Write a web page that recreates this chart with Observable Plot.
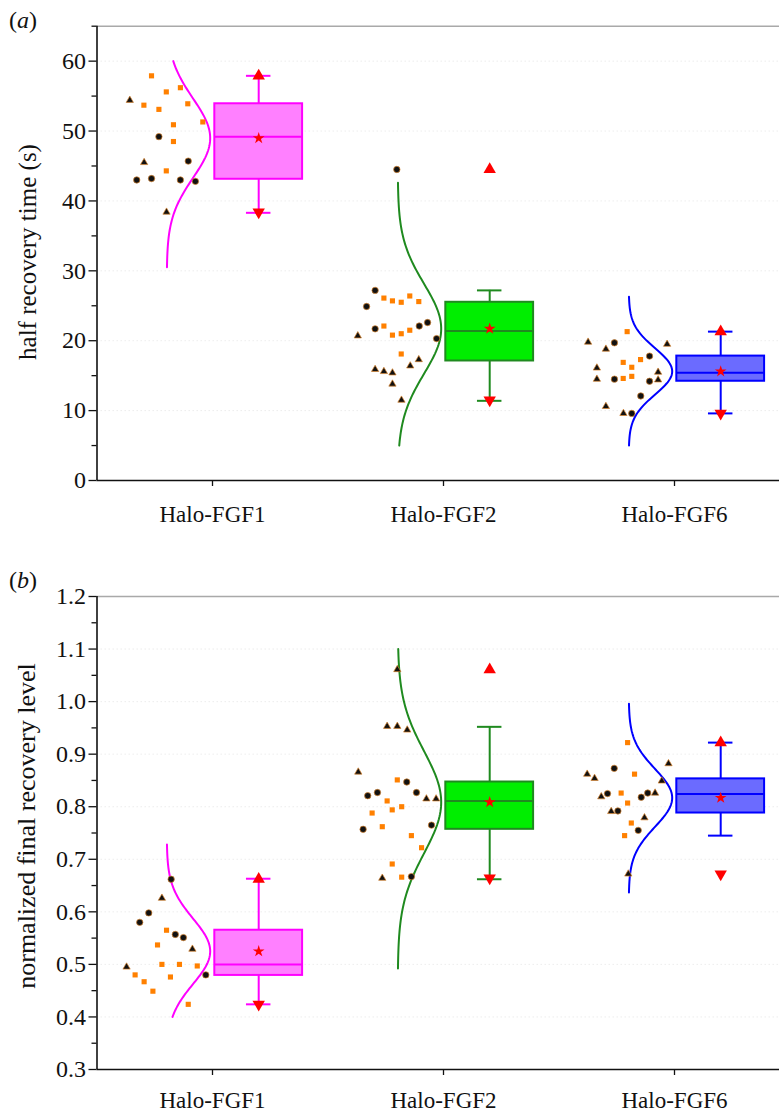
<!DOCTYPE html>
<html>
<head>
<meta charset="utf-8">
<script src="https://cdn.jsdelivr.net/npm/d3@7"></script>
<script src="https://cdn.jsdelivr.net/npm/@observablehq/plot@0.6"></script>
<style>
  html, body { margin: 0; padding: 0; background: #fff; }
  #wrap { position: relative; width: 779px; height: 1112px; overflow: hidden; font-family: "Liberation Serif", "Times New Roman", serif; color: #111; }
  .panel { position: absolute; left: 0; z-index: 1; }
  .plabel { position: absolute; left: 9px; font-size: 24px; line-height: 1; z-index: 2; }
  .ytitle { position: absolute; transform: translate(-50%, -50%) rotate(-90deg); white-space: nowrap; font-size: 25px; line-height: 1; z-index: 2; }
</style>
</head>
<body>
<div id="wrap">
  <div class="panel" id="pa" style="top:0px"></div>
  <div class="panel" id="pb" style="top:560px"></div>
  <div class="plabel" style="top:8px">(<i>a</i>)</div>
  <div class="ytitle" style="left:27px; top:252px">half recovery time (s)</div>
  <div class="plabel" style="top:568px">(<i>b</i>)</div>
  <div class="ytitle" style="left:27px; top:826px; font-size:26px">normalized final recovery level</div>
</div>
<script>
// ---------------- data ----------------
const categories = ["Halo-FGF1", "Halo-FGF2", "Halo-FGF6"];

// (a) half recovery time (s): values, marker kind (s = square, t = triangle, c = circle), horizontal jitter
const timeFGF1 = [57.9, 55.6, 56.2, 53.7, 53.1, 53.9, 51.3, 50.9, 48.5, 44.3, 54.4, 45.5, 38.4, 49.2, 45.7, 43.0, 43.2, 43.0, 42.8];
const timeFGF1Kind = "sssssssssstttcccccc";
const timeFGF1Jitter = [-0.264, -0.200, -0.139, -0.297, -0.232, -0.107, -0.042, -0.169, -0.169, -0.200, -0.358, -0.296, -0.199, -0.232, -0.105, -0.328, -0.264, -0.139, -0.074];

const timeFGF2 = [44.5, 27.2, 24.9, 21.7, 22.1, 22.6, 20.3, 26.1, 25.7, 25.5, 26.4, 25.6, 22.1, 20.8, 21.0, 21.5, 18.1, 20.7, 17.3, 16.4, 15.9, 15.6, 15.4, 13.8, 11.5];
const timeFGF2Kind = "cccccccsssssssssstttttttt";
const timeFGF2Jitter = [-0.202, -0.296, -0.333, -0.296, -0.105, -0.069, -0.030, -0.258, -0.221, -0.183, -0.146, -0.107, -0.258, -0.221, -0.183, -0.146, -0.183, -0.371, -0.107, -0.144, -0.296, -0.258, -0.221, -0.221, -0.182];

const timeFGF6 = [21.3, 16.9, 17.3, 16.2, 14.6, 14.9, 19.7, 17.8, 14.5, 14.2, 12.1, 9.6, 19.8, 18.8, 19.5, 16.1, 14.5, 15.5, 14.4, 10.6, 9.6];
const timeFGF6Kind = "ssssssccccccttttttttt";
const timeFGF6Jitter = [-0.205, -0.222, -0.147, -0.185, -0.222, -0.185, -0.260, -0.108, -0.260, -0.108, -0.146, -0.185, -0.374, -0.297, -0.032, -0.336, -0.336, -0.071, -0.071, -0.297, -0.221];

// (a) box statistics and normal-curve extent, per category
const timeQ1 = [43.1, 17.1, 14.2];
const timeMedian = [49.2, 21.4, 15.4];
const timeQ3 = [53.9, 25.5, 17.8];
const timeWhiskerLow = [38.3, 11.4, 9.6];
const timeWhiskerHigh = [57.9, 27.2, 21.3];
const timeCurveFrom = [30.5, 5.0, 5.0];
const timeCurveTo = [60.0, 42.6, 26.3];
const timeTicks = [0, 10, 20, 30, 40, 50, 60];
const timeMinorTicks = [5, 15, 25, 35, 45, 55, 65];

// (b) normalized final recovery level
const levelFGF1 = [0.662, 0.598, 0.580, 0.557, 0.551, 0.480, 0.626, 0.529, 0.495, 0.565, 0.537, 0.500, 0.500, 0.497, 0.480, 0.476, 0.467, 0.449, 0.424];
const levelFGF1Kind = "cccccctttssssssssss";
const levelFGF1Jitter = [-0.179, -0.276, -0.315, -0.161, -0.126, -0.029, -0.219, -0.087, -0.372, -0.199, -0.238, -0.219, -0.143, -0.066, -0.335, -0.182, -0.296, -0.258, -0.105];

const levelFGF2 = [1.061, 0.953, 0.953, 0.946, 0.866, 0.815, 0.815, 0.664, 0.847, 0.821, 0.827, 0.827, 0.757, 0.765, 0.667, 0.851, 0.811, 0.800, 0.794, 0.788, 0.762, 0.745, 0.722, 0.691, 0.666];
const levelFGF2Kind = "ttttttttcccccccssssssssss";
const levelFGF2Jitter = [-0.200, -0.244, -0.200, -0.157, -0.369, -0.074, -0.032, -0.265, -0.159, -0.328, -0.286, -0.117, -0.348, -0.052, -0.139, -0.200, -0.244, -0.181, -0.222, -0.309, -0.265, -0.139, -0.095, -0.222, -0.181];

const levelFGF6 = [0.882, 0.862, 0.854, 0.849, 0.826, 0.819, 0.791, 0.779, 0.672, 0.873, 0.825, 0.826, 0.818, 0.792, 0.755, 0.922, 0.862, 0.826, 0.807, 0.769, 0.745];
const levelFGF6Kind = "tttttttttccccccssssss";
const levelFGF6Jitter = [-0.026, -0.378, -0.346, -0.055, -0.084, -0.317, -0.274, -0.130, -0.200, -0.261, -0.290, -0.116, -0.144, -0.245, -0.157, -0.203, -0.173, -0.231, -0.203, -0.187, -0.216];

const levelQ1 = [0.479, 0.757, 0.788];
const levelMedian = [0.500, 0.811, 0.824];
const levelQ3 = [0.565, 0.847, 0.853];
const levelWhiskerLow = [0.424, 0.662, 0.745];
const levelWhiskerHigh = [0.663, 0.952, 0.922];
const levelCurveFrom = [0.400, 0.492, 0.637];
const levelCurveTo = [0.728, 1.100, 0.996];
const levelTicks = [0.3, 0.4, 0.5, 0.6, 0.7, 0.8, 0.9, 1.0, 1.1, 1.2];
const levelMinorTicks = [0.35, 0.45, 0.55, 0.65, 0.75, 0.85, 0.95, 1.05, 1.15];

// ---------------- style ----------------
const lineColor = ["#ff00ff", "#1f8a1f", "#0000ff"];
const boxFill = ["#ff80ff", "#00ee00", "#6b6bff"];
const BOX_OFF = 0.2, BOX_HALF = 0.19, CAP_HALF = 0.053;
const CURVE_BASE = -0.198, CURVE_AMP = 0.188;
const FONT = "Liberation Serif";

function panel(o) {
  const marks = [];
  const [y0, y1] = o.domain;
  // faint dotted grid
  marks.push(Plot.ruleY(o.ticks.filter(t => t > y0 && t < y1), {stroke: "#d6d6d6", strokeOpacity: 0.45, strokeDasharray: "1.5,2.5"}));
  // top frame line
  marks.push(Plot.ruleY([y1], {stroke: "#a9a9a9", strokeWidth: 1.5}));

  categories.forEach((c, g) => {
    const pos = g + 1;
    const vals = o.values[g];
    const mean = d3.mean(vals), sd = d3.deviation(vals);
    // normal distribution curve
    const n = 120, lo = o.curveFrom[g], hi = o.curveTo[g];
    const curve = d3.range(n + 1).map(k => {
      const v = lo + (hi - lo) * k / n;
      const z = (v - mean) / sd;
      return {x: pos + CURVE_BASE + CURVE_AMP * Math.exp(-0.5 * z * z), y: v};
    });
    marks.push(Plot.line(curve, {x: "x", y: "y", stroke: lineColor[g], strokeWidth: 2, curve: "linear"}));

    // jittered raw points
    const pts = vals.map((v, i) => ({x: pos + o.jitter[g][i], y: v, k: o.kind[g][i]}));
    marks.push(Plot.dot(pts.filter(d => d.k === "s"), {x: "x", y: "y", symbol: "square", r: 2.9, fill: "#ff8000", stroke: "none"}));
    marks.push(Plot.dot(pts.filter(d => d.k === "c"), {x: "x", y: "y", symbol: "circle", r: 3.2, fill: "#111", stroke: "#d9832b", strokeWidth: 0.7}));
    marks.push(Plot.dot(pts.filter(d => d.k === "t"), {x: "x", y: "y", symbol: "triangle", r: 2.7, fill: "#111", stroke: "#d9832b", strokeWidth: 0.7}));

    // box
    const bx = pos + BOX_OFF;
    const stat = [{q1: o.q1[g], med: o.median[g], q3: o.q3[g], wl: o.wLow[g], wh: o.wHigh[g]}];
    marks.push(Plot.ruleX(stat, {x: () => bx, y1: "q3", y2: "wh", stroke: lineColor[g], strokeWidth: 2}));
    marks.push(Plot.ruleX(stat, {x: () => bx, y1: "wl", y2: "q1", stroke: lineColor[g], strokeWidth: 2}));
    marks.push(Plot.ruleY([o.wLow[g], o.wHigh[g]], {y: d => d, x1: () => bx - CAP_HALF, x2: () => bx + CAP_HALF, stroke: lineColor[g], strokeWidth: 2}));
    marks.push(Plot.rect(stat, {x1: () => bx - BOX_HALF, x2: () => bx + BOX_HALF, y1: "q1", y2: "q3", fill: boxFill[g], stroke: lineColor[g], strokeWidth: 2}));
    marks.push(Plot.ruleY(stat, {y: "med", x1: () => bx - BOX_HALF, x2: () => bx + BOX_HALF, stroke: lineColor[g], strokeWidth: 2}));
    // mean star, max / min markers
    marks.push(Plot.dot([mean], {x: () => bx, y: d => d, symbol: "star", r: 3.7, fill: "#ff0000", stroke: "none"}));
    marks.push(Plot.dot([d3.max(vals)], {x: () => bx, y: d => d, symbol: "triangle", r: 4.6, fill: "#ff0000", stroke: "none"}));
    marks.push(Plot.dot([d3.min(vals)], {x: () => bx, y: d => d, symbol: "triangle", r: 4.6, rotate: 180, fill: "#ff0000", stroke: "none"}));
  });

  // axes
  marks.push(Plot.axisY(o.minorTicks.filter(t => t <= y1), {tickSize: 5, tickFormat: () => "", label: null, strokeWidth: 1.3}));
  marks.push(Plot.axisY(o.ticks, {tickSize: 8, tickPadding: 3, tickFormat: o.fmt, fontSize: 24, label: null, strokeWidth: 1.3}));
  marks.push(Plot.axisX([1, 2, 3], {tickSize: 6, tickPadding: o.xPad, tickFormat: i => categories[i - 1], fontSize: 23, label: null, strokeWidth: 1.3}));
  marks.push(Plot.ruleX([0.5], {stroke: "#111", strokeWidth: 1.6}));
  marks.push(Plot.ruleY([y0], {stroke: "#111", strokeWidth: 1.6}));

  return Plot.plot({
    width: 779,
    height: o.height,
    marginLeft: 96.5,
    marginRight: -10.5,
    marginTop: o.top,
    marginBottom: o.height - o.bottom,
    x: {domain: [0.5, 3.5], range: [96.5, 789.5]},
    y: {domain: o.domain, range: [o.bottom, o.top]},
    style: {fontFamily: FONT, fontSize: "23px", color: "#111", background: "transparent", overflow: "visible"},
    marks
  });
}

document.getElementById("pa").appendChild(panel({
  values: [timeFGF1, timeFGF2, timeFGF6],
  kind: [timeFGF1Kind, timeFGF2Kind, timeFGF6Kind],
  jitter: [timeFGF1Jitter, timeFGF2Jitter, timeFGF6Jitter],
  q1: timeQ1, median: timeMedian, q3: timeQ3, wLow: timeWhiskerLow, wHigh: timeWhiskerHigh,
  curveFrom: timeCurveFrom, curveTo: timeCurveTo,
  ticks: timeTicks, minorTicks: timeMinorTicks, fmt: d3.format("d"),
  domain: [0, 65], height: 560, top: 25.7, bottom: 480, xPad: 19
}));

document.getElementById("pb").appendChild(panel({
  values: [levelFGF1, levelFGF2, levelFGF6],
  kind: [levelFGF1Kind, levelFGF2Kind, levelFGF6Kind],
  jitter: [levelFGF1Jitter, levelFGF2Jitter, levelFGF6Jitter],
  q1: levelQ1, median: levelMedian, q3: levelQ3, wLow: levelWhiskerLow, wHigh: levelWhiskerHigh,
  curveFrom: levelCurveFrom, curveTo: levelCurveTo,
  ticks: levelTicks, minorTicks: levelMinorTicks, fmt: d3.format(".1f"),
  domain: [0.3, 1.2], height: 552, top: 36, bottom: 509, xPad: 16
}));
</script>
</body>
</html>
